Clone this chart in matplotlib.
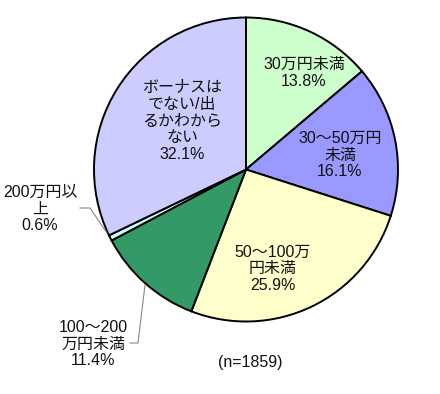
import matplotlib
matplotlib.use("Agg")
import matplotlib.pyplot as plt

plt.rcParams['font.family'] = ['Liberation Sans', 'Noto Sans CJK JP', 'DejaVu Sans']

categories = ["30万円未満", "30～50万円未満", "50～100万円未満", "100～200万円未満", "200万円以上", "ボーナスはでない/出るかわからない"]
values = [13.8, 16.1, 25.9, 11.4, 0.6, 32.1]
label_texts = ["30万円未満\n13.8%", "30～50万円\n未満\n16.1%", "50～100万\n円未満\n25.9%",
               "100～200\n万円未満\n11.4%", "200万円以\n上\n0.6%",
               "ボーナスは\nでない/出\nるかわから\nない\n32.1%"]
colors = ["#CCFFCC", "#9999FF", "#FFFFCC", "#339966", "#CCFFFF", "#CCCCFF"]
note = "(n=1859)"

W, H = 440, 394
fig = plt.figure(figsize=(W / 100, H / 100), dpi=100)
ax = fig.add_axes([0, 0, 1, 1])

cx, cy, r = 246, H - 169.5, 152
ax.pie(values, colors=colors, startangle=90, counterclock=False,
       center=(cx, cy), radius=r, frame=True,
       wedgeprops=dict(edgecolor='black', linewidth=1.4))
ax.set_xlim(0, W)
ax.set_ylim(0, H)
ax.set_aspect('equal')
ax.axis('off')

label_pos = [(304, 73), (340, 155), (273, 269), (93, 344), (40, 209), (182, 121)]
for t, (x, y) in zip(label_texts, label_pos):
    ax.text(x, H - y, t, ha='center', va='center', fontsize=11.5, linespacing=1.15, color='#111111')

ax.text(250, H - 362, note, ha='center', va='center', fontsize=11.5, color='#111111')

# leader lines
ax.plot([80, 90, 107], [H - 208, H - 208, H - 233], color='#888888', lw=0.8)
ax.plot([130, 138, 145], [H - 343, H - 343, H - 285], color='#888888', lw=0.8)

fig.savefig("out.png", dpi=100)
